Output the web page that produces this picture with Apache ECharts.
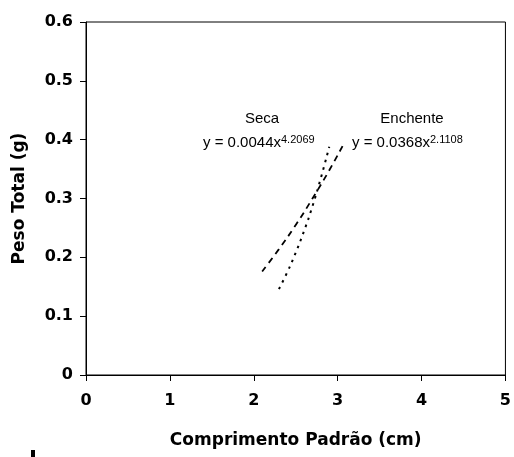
<!DOCTYPE html>
<html>
<head>
<meta charset="utf-8">
<script src="https://cdn.jsdelivr.net/npm/echarts@6/dist/echarts.min.js"></script>
<style>html,body{margin:0;padding:0;background:#fff}#c{width:514px;height:457px}</style>
</head>
<body>
<div id="c"></div>
<script>
// Seca (dotted)
var secaX = [2.3, 2.4, 2.5, 2.6, 2.7, 2.8, 2.9];
var secaY = [0.146, 0.175, 0.208, 0.245, 0.287, 0.335, 0.388];
// Enchente (dashed)
var enchX = [2.1, 2.3, 2.5, 2.7, 2.9, 3.08];
var enchY = [0.176, 0.214, 0.255, 0.300, 0.348, 0.395];
var xTicks = [0, 1, 2, 3, 4, 5];
var yTicks = [0, 0.1, 0.2, 0.3, 0.4, 0.5, 0.6];
var secaLabel = 'Seca', secaEq = 'y = 0.0044x', secaExp = '4.2069';
var enchLabel = 'Enchente', enchEq = 'y = 0.0368x', enchExp = '2.1108';

function pairs(xs, ys) { return xs.map(function (x, i) { return [x, ys[i]]; }); }

var chart = echarts.init(document.getElementById('c'));
var tickFont = { fontFamily: 'DejaVu Sans', fontWeight: 'bold', fontSize: 16, color: '#000' };
var nameFont = { fontFamily: 'DejaVu Sans', fontWeight: 'bold', fontSize: 17, color: '#000' };
var richEq = { m: { fontSize: 15, lineHeight: 18, fontFamily: 'Liberation Sans' }, s: { fontSize: 11, verticalAlign: 'top', fontFamily: 'Liberation Sans' } };
chart.setOption({
  animation: false,
  backgroundColor: '#fff',
  grid: { left: 86, right: 8, top: 22, bottom: 82, show: true, borderColor: '#000', borderWidth: 1, backgroundColor: 'transparent' },
  xAxis: {
    type: 'value', min: xTicks[0], max: xTicks[xTicks.length - 1], interval: 1,
    name: 'Comprimento Padrão (cm)', nameLocation: 'middle', nameGap: 57, nameTextStyle: nameFont,
    axisLine: { show: true, lineStyle: { color: '#000', width: 1 } },
    axisTick: { show: true, inside: false, length: 6, lineStyle: { color: '#000' } },
    axisLabel: Object.assign({ margin: 18 }, tickFont),
    splitLine: { show: false }
  },
  yAxis: {
    type: 'value', min: yTicks[0], max: yTicks[yTicks.length - 1], interval: 0.1,
    name: 'Peso Total (g)', nameLocation: 'middle', nameGap: 58, nameTextStyle: nameFont,
    axisLine: { show: true, lineStyle: { color: '#000', width: 1 } },
    axisTick: { show: true, inside: false, length: 6, lineStyle: { color: '#000' } },
    axisLabel: Object.assign({ margin: 13 }, tickFont),
    splitLine: { show: false }
  },
  series: [
    { name: secaLabel, type: 'line', data: pairs(secaX, secaY), smooth: true, showSymbol: false,
      lineStyle: { color: '#000', width: 2, type: [2.5, 5] } },
    { name: enchLabel, type: 'line', data: pairs(enchX, enchY), smooth: true, showSymbol: false,
      lineStyle: { color: '#000', width: 1.8, type: [6, 5] } }
  ],
  graphic: [
    { type: 'text', x: 262, y: 119, style: { text: secaLabel, fontFamily: 'Liberation Sans', fontSize: 15, fill: '#000', align: 'center', verticalAlign: 'middle' } },
    { type: 'text', x: 412, y: 119, style: { text: enchLabel, fontFamily: 'Liberation Sans', fontSize: 15, fill: '#000', align: 'center', verticalAlign: 'middle' } },
    { type: 'text', x: 203, y: 134, style: { text: '{m|' + secaEq + '}{s|' + secaExp + '}', fontFamily: 'Liberation Sans', fill: '#000', rich: richEq } },
    { type: 'text', x: 352, y: 134, style: { text: '{m|' + enchEq + '}{s|' + enchExp + '}', fontFamily: 'Liberation Sans', fill: '#000', rich: richEq } },
    { type: 'rect', shape: { x: 31, y: 450, width: 4, height: 7 }, style: { fill: '#000' } }
  ]
});
</script>
</body>
</html>
